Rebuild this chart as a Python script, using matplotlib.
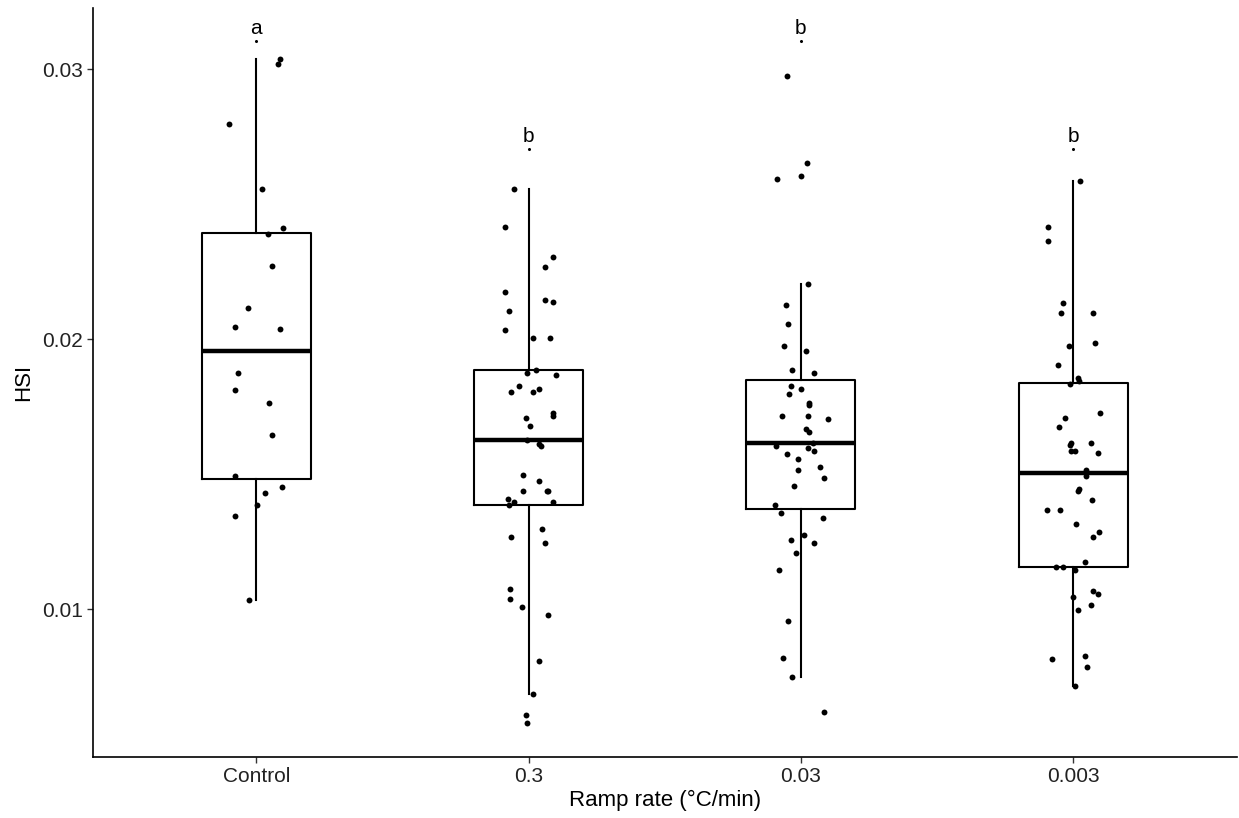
import matplotlib
matplotlib.use("Agg")
import matplotlib.pyplot as plt
import numpy as np

plt.rcParams['font.family'] = ['Liberation Sans', 'DejaVu Sans']

groups = ["Control", "0.3", "0.03", "0.003"]

# HSI values, with the horizontal jitter (category units)
hsi_control = [0.03037, 0.03019, 0.02796, 0.02556, 0.02389, 0.02411, 0.02270, 0.02115,
               0.02044, 0.02037, 0.01874, 0.01811, 0.01763, 0.01644, 0.01493, 0.01452,
               0.01430, 0.01385, 0.01344, 0.01033]
jit_control = [0.088, 0.080, -0.099, 0.022, 0.044, 0.099, 0.059, -0.029, -0.077, 0.088,
               -0.066, -0.077, 0.048, 0.059, -0.077, 0.095, 0.033, 0.004, -0.080, -0.026]

hsi_03 = [0.02556, 0.02415, 0.02304, 0.02267, 0.02174, 0.02144, 0.02137, 0.02104, 0.02033,
          0.02004, 0.02004, 0.01885, 0.01874, 0.01867, 0.01826, 0.01815, 0.01804, 0.01804,
          0.01726, 0.01715, 0.01707, 0.01678, 0.01626, 0.01611, 0.01604, 0.01496, 0.01474,
          0.01437, 0.01437, 0.01437, 0.01407, 0.01396, 0.01396, 0.01385, 0.01296, 0.01267,
          0.01244, 0.01074, 0.01037, 0.01007, 0.00978, 0.00807, 0.00685, 0.00607, 0.00578]
jit_03 = [-0.055, -0.088, 0.088, 0.059, -0.088, 0.062, 0.088, -0.073, -0.088, 0.015,
          0.077, 0.029, -0.004, 0.099, -0.037, 0.040, -0.066, 0.015, 0.091, 0.091,
          -0.011, 0.007, -0.004, 0.037, 0.044, -0.022, 0.037, -0.022, 0.066, 0.073,
          -0.077, -0.055, 0.091, -0.073, 0.051, -0.066, 0.062, -0.070, -0.070, -0.026,
          0.073, 0.040, 0.015, -0.011, -0.007]

hsi_003 = [0.02974, 0.02652, 0.02593, 0.02604, 0.02204, 0.02126, 0.02056, 0.01974, 0.01956,
           0.01885, 0.01874, 0.01826, 0.01815, 0.01796, 0.01763, 0.01756, 0.01715, 0.01715,
           0.01704, 0.01667, 0.01656, 0.01615, 0.01604, 0.01596, 0.01585, 0.01574, 0.01556,
           0.01526, 0.01515, 0.01485, 0.01456, 0.01385, 0.01356, 0.01337, 0.01274, 0.01256,
           0.01244, 0.01207, 0.01144, 0.00956, 0.00819, 0.00748, 0.00619]
jit_003 = [-0.051, 0.022, -0.088, 0.0, 0.026, -0.055, -0.048, -0.062, 0.018, -0.033,
           0.048, -0.037, 0.0, -0.044, 0.029, 0.029, -0.070, 0.026, 0.099, 0.018,
           0.029, 0.044, -0.091, 0.026, 0.048, -0.051, -0.011, 0.070, -0.011, 0.084,
           -0.026, -0.095, -0.073, 0.080, 0.011, -0.037, 0.048, -0.018, -0.080, -0.048,
           -0.066, -0.033, 0.084]

hsi_0003 = [0.02585, 0.02415, 0.02363, 0.02133, 0.02096, 0.02096, 0.01985, 0.01974, 0.01904,
            0.01856, 0.01844, 0.01833, 0.01726, 0.01707, 0.01674, 0.01615, 0.01615, 0.01607,
            0.01585, 0.01585, 0.01578, 0.01515, 0.01494, 0.01444, 0.01437, 0.01404, 0.01367,
            0.01367, 0.01315, 0.01285, 0.01267, 0.01174, 0.01156, 0.01156, 0.01144, 0.01067,
            0.01056, 0.01044, 0.01015, 0.00996, 0.00826, 0.00815, 0.00785, 0.00715]
jit_0003 = [0.026, -0.091, -0.091, -0.037, -0.044, 0.073, 0.080, -0.015, -0.055, 0.018,
            0.022, -0.011, 0.099, -0.029, -0.051, -0.007, 0.066, -0.011, -0.007, 0.007,
            0.091, 0.048, 0.048, 0.022, 0.018, 0.070, -0.095, -0.048, 0.011, 0.095,
            0.073, 0.044, -0.062, -0.037, 0.007, 0.073, 0.091, 0.0, 0.066, 0.018,
            0.044, -0.077, 0.051, 0.007]

letters = ["a", "b", "b", "b"]
letter_y = [0.03104, 0.02704, 0.03104, 0.02704]

data = [hsi_control, hsi_03, hsi_003, hsi_0003]
jitters = [jit_control, jit_03, jit_003, jit_0003]
pos = np.arange(1, len(groups) + 1)

fig = plt.figure(figsize=(12.39, 8.18), dpi=100)
ax = fig.add_axes([0.075, 0.0746, 0.923, 0.9154])

ax.boxplot(data, positions=pos, widths=0.4, whis=1.5, showfliers=False,
           boxprops=dict(color="black", linewidth=1.5),
           whiskerprops=dict(color="black", linewidth=1.5),
           capprops=dict(linewidth=0),
           medianprops=dict(color="black", linewidth=3.2))

for p, vals, jit in zip(pos, data, jitters):
    ax.scatter(p + np.array(jit), vals, s=18, color="black", zorder=3, linewidths=0)

for p, lab, ly in zip(pos, letters, letter_y):
    ax.plot(p, ly, marker="o", markersize=1.2, color="black", linestyle="none")
    ax.annotate(lab, (p, ly), xytext=(0, 2), textcoords="offset points",
                ha="center", va="bottom", fontsize=15)

ax.set_xlim(0.4, 4.6)
ax.set_ylim(0.00452, 0.03226)
ax.set_xticks(pos)
ax.set_xticklabels(groups)
ax.set_yticks([0.01, 0.02, 0.03])
ax.set_yticklabels(["0.01", "0.02", "0.03"])
ax.tick_params(labelsize=15, length=4, width=1.0, color="#333333", labelcolor="#222222", pad=3)
ax.set_xlabel("Ramp rate (°C/min)", fontsize=16, labelpad=3)
ax.set_ylabel("HSI", fontsize=16, labelpad=6)

for s in ["top", "right"]:
    ax.spines[s].set_visible(False)
for s in ["left", "bottom"]:
    ax.spines[s].set_linewidth(1.2)

fig.savefig("out.png", dpi=100)
